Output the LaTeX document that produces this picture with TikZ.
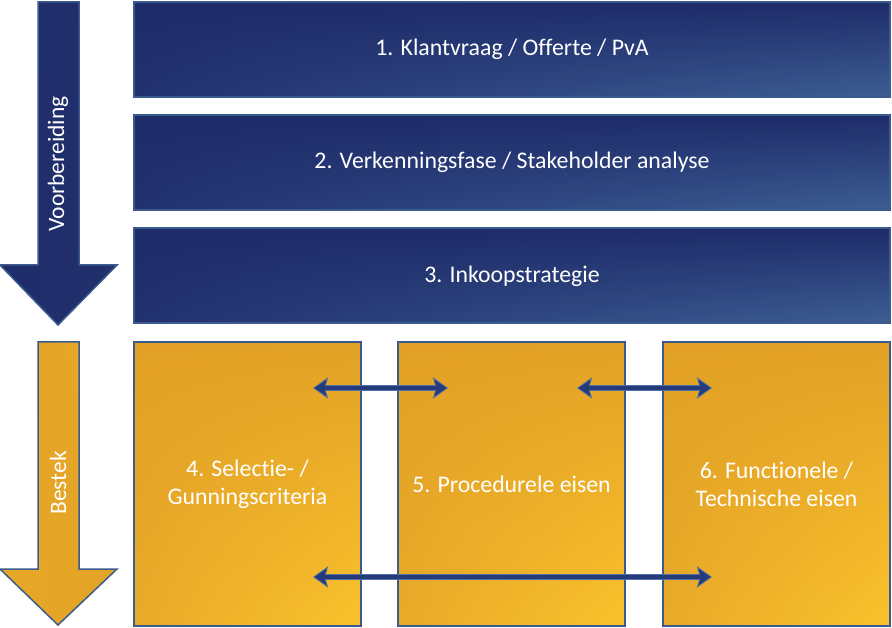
\documentclass[tikz,border=0pt]{standalone}
\usepackage{fontspec}
\setmainfont{Carlito}[Ligatures={NoCommon,NoDiscretionary,NoRare}]
\usetikzlibrary{arrows.meta,shadings}
\definecolor{navyA}{HTML}{1E2C69}
\definecolor{navyB}{HTML}{22326F}
\definecolor{navyC}{HTML}{3D5E94}
\definecolor{orA}{HTML}{E2A126}
\definecolor{orB}{HTML}{E8AA29}
\definecolor{orC}{HTML}{FAC22C}
\definecolor{edge}{HTML}{3B5B8C}
\definecolor{arrdark}{HTML}{253A78}
\definecolor{arrlight}{HTML}{4F70A4}
\tikzset{
  bluebox/.style={draw=edge, line width=2pt, upper left=navyA, upper right=navyA,
    lower left=navyB, lower right=navyC, minimum width=756pt, minimum height=95pt,
    text=white, font=\fontsize{23.8}{28}\selectfont, inner sep=0pt},
  orbox/.style={draw=edge, line width=2pt, upper left=orA, upper right=orA,
    lower left=orB, lower right=orC, minimum width=227pt, minimum height=284pt,
    text=white, font=\fontsize{23.8}{28}\selectfont, align=center, inner sep=0pt},
  sidelabel/.style={text=white, font=\fontsize{23.5}{28}\selectfont, rotate=90, inner sep=0pt},
  linkouter/.style={line width=6pt, draw=arrlight, {Stealth[length=15pt,width=21pt,inset=3pt]}-{Stealth[length=15pt,width=21pt,inset=3pt]}},
  linkinner/.style={line width=3.5pt, draw=arrdark, shorten <=1.5pt, shorten >=1.5pt, {Stealth[length=12pt,width=16pt,inset=2.5pt]}-{Stealth[length=12pt,width=16pt,inset=2.5pt]}},
}
\begin{document}
\begin{tikzpicture}[x=1pt,y=-1pt]
\useasboundingbox (0,0) rectangle (892,628);
% side arrows
\shade[draw=edge, line width=1.5pt, upper left=navyB, upper right=navyA, lower left=navyA, lower right=navyB]
  (38,2) -- (79,2) -- (79,265) -- (117,265) -- (58,325) -- (0,265) -- (38,265) -- cycle;
\node[sidelabel] (voor) at (58,164) {Voorbereiding};
\shade[draw=edge, line width=1.5pt, upper left=orA, upper right=orB, lower left=orB, lower right=orA]
  (38,342) -- (79,342) -- (79,569) -- (117,569) -- (58,625) -- (0,569) -- (38,569) -- cycle;
\node[sidelabel] (bestek) at (58,483) {Bestek};
% blue boxes
\node[bluebox, shade] (b1) at (512,49.5) {1. Klantvraag / Offerte / PvA};
\node[bluebox, shade] (b2) at (512,162.5) {2. Verkenningsfase / Stakeholder analyse};
\node[bluebox, shade] (b3) at (512,276) {3. Inkoopstrategie};
% orange boxes
\node[orbox, shade] (o4) at (247.5,484) {4. Selectie- /\\Gunningscriteria};
\node[orbox, shade] (o5) at (511.5,484) {5. Procedurele eisen};
\node[orbox, shade] (o6) at (776.5,484) {6. Functionele /\\Technische eisen};
% link end points
\coordinate (l1a) at (313,388);
\coordinate (l1b) at (448,388);
\coordinate (l2a) at (577,388);
\coordinate (l2b) at (712,388);
\coordinate (l3a) at (313,577);
\coordinate (l3b) at (712,577);
\foreach \p/\q in {l1a/l1b, l2a/l2b, l3a/l3b} {
  \draw[linkouter] (\p) -- (\q);
  \draw[linkinner] (\p) -- (\q);
}
\end{tikzpicture}
\end{document}
